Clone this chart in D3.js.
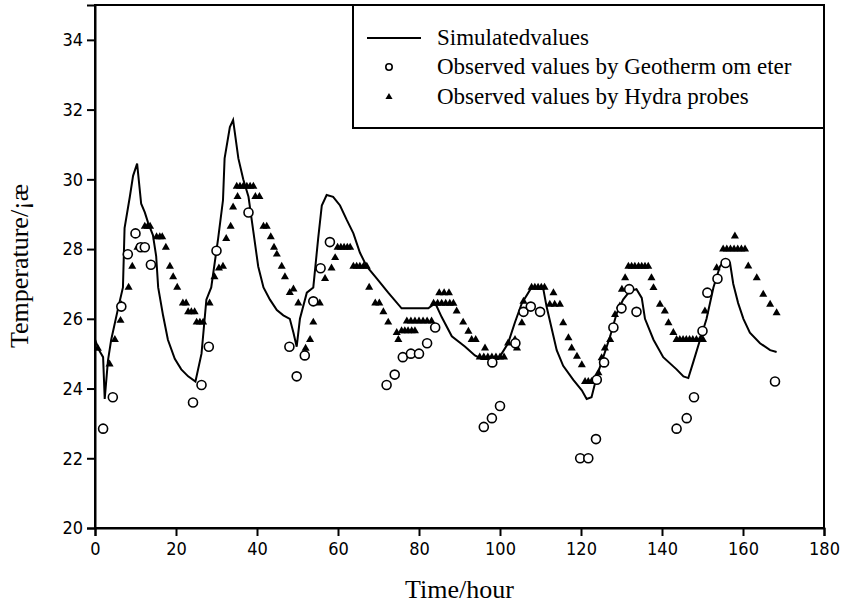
<!DOCTYPE html>
<html>
<head>
<meta charset="utf-8">
<script src="https://cdn.jsdelivr.net/npm/d3@7"></script>
<style>
  body { margin: 0; background: #fff; }
  .tick text { font-family: "Liberation Sans Narrow", "DejaVu Sans Condensed", "Liberation Sans", Arial, sans-serif; font-size: 18px; fill: #000; }
  .title { font-family: "Liberation Serif", "Times New Roman", serif; fill: #000; }
</style>
</head>
<body>
<div id="chart"></div>
<script>
// simulated temperature (line)
var simTime = [0, 1, 2, 2.4, 3.2, 4, 5.7, 6.9, 7.3, 8.6, 9.4, 10.4, 11.4, 12.3, 13.1, 14.3, 15.1, 15.6, 16.8, 18,
  19.7, 21.3, 23, 24.8, 26.3, 27.5, 28.7, 30.4, 31.6, 32, 33.3, 34.1, 35.4, 36.6, 37.9, 39.1, 40.3, 41.6, 43.2, 44.9,
  46.5, 48.1, 49, 49.8, 50.6, 52.3, 53.9, 55.1, 56, 57.2, 58.8, 60.5, 62.1, 63.8, 65.4, 67.1, 69.6, 72.4, 75.7, 82.3,
  84, 85.6, 88.1, 91.4, 93.8, 95.5, 99.6, 102, 103.7, 105.4, 107.8, 110.7, 111.5, 112.8, 114, 115.6, 118.1, 120.2, 121.4, 122.6,
  123.9, 125.5, 127.2, 128.8, 130.4, 132.1, 133.7, 135, 135.8, 137.9, 140.3, 143.6, 145.3, 146.5, 147.7, 149.4, 151, 152.7, 154.3, 155.6,
  156.8, 157.6, 158.8, 160.1, 161.7, 164.2, 166.7, 168.3];
var simTemp = [25.4, 25.1, 24.9, 23.7, 24.8, 25.4, 26.3, 26.9, 28.6, 29.5, 30.1, 30.45, 29.3, 29.05, 28.76, 28.4, 27.8, 26.9, 26.1, 25.4,
  24.85, 24.55, 24.35, 24.2, 25.0, 26.55, 26.9, 28.3, 29.4, 30.6, 31.5, 31.7, 30.6, 30.0, 29.5, 28.5, 27.5, 26.9, 26.55, 26.25,
  26.1, 26.0, 25.6, 25.2, 26.0, 26.75, 26.9, 28.3, 29.25, 29.55, 29.5, 29.25, 28.85, 28.45, 27.9, 27.5, 27.15, 26.75, 26.3, 26.3,
  26.45, 26.05, 25.5, 25.2, 24.95, 24.85, 24.85, 25.3, 25.9, 26.45, 26.9, 26.85, 26.35, 25.7, 25.1, 24.65, 24.25, 23.95, 23.7, 23.75,
  24.35, 24.9, 25.5, 26.15, 26.55, 26.8, 26.85, 26.6, 26.0, 25.4, 24.9, 24.55, 24.35, 24.3, 24.75, 25.4, 26.0, 26.9, 27.5, 27.7,
  27.6, 27.0, 26.45, 26.0, 25.6, 25.3, 25.1, 25.05];

// geothermometer readings (open circles)
var geoTime = [2, 4.4, 6.5, 8.1, 10, 11.3, 12.3, 13.8, 24.2, 26.3, 28.1, 30, 37.9, 48, 49.8, 51.8, 53.9, 55.7, 58,
  72, 74, 76, 78, 80, 82, 84, 96, 98, 100, 98.1, 103.8, 105.8, 107.6, 109.9, 119.8, 121.8, 123.7, 123.9, 125.7, 128, 130, 131.9, 133.7,
  143.6, 146.1, 147.9, 150, 151.2, 153.7, 155.7, 167.9];
var geoTemp = [22.85, 23.75, 26.35, 27.85, 28.45, 28.05, 28.05, 27.55, 23.6, 24.1, 25.2, 27.95, 29.05, 25.2, 24.35, 24.95, 26.5, 27.45, 28.2,
  24.1, 24.4, 24.9, 25.0, 25.0, 25.3, 25.75, 22.9, 23.15, 23.5, 24.75, 25.3, 26.2, 26.35, 26.2, 22.0, 22.0, 22.55, 24.25, 24.75, 25.75, 26.3, 26.85, 26.2,
  22.85, 23.15, 23.75, 25.65, 26.75, 27.15, 27.6, 24.2];

// hydra probe readings (filled triangles)
var hydraTime = [0.7, 3.6, 4.9, 6.3, 6.5, 8.3, 9.2, 10.5, 11.9, 12.3, 13, 13.6, 15.2, 16, 16.6, 17.5, 18.5, 19.3, 20.3, 21.7, 22.5,
  23, 23.8, 24.6, 25.1, 25.9, 26.7, 28.3, 29.5, 30.6, 31.6, 32.4, 33.5, 34.1, 35, 35.8, 36.6, 37.5, 38.3, 39.1, 35.2, 39.6, 40.6,
  41.6, 42.4, 43.4, 44.2, 44.9, 46.1, 46.9, 48.1, 49, 50.2, 52, 53.1, 53.9, 55.5, 56.8, 58.4, 59.3, 59.9, 60.7, 61.5, 62.3, 63,
  63.8, 64.6, 65.4, 66.3, 67.1, 67.7, 69.2, 70.2, 71.2, 72.4, 74.5, 74.9, 75.7, 76.5, 77.3, 78.2, 79, 77, 78, 79, 80, 81, 82, 83.1,
  83.6, 84.6, 85.6, 86.6, 87.6, 88.5, 85, 86.2, 87.4, 89.3, 90.9, 92.2, 93, 94, 96.3, 95, 96, 97, 98, 99, 100, 101,
  102, 103.7, 104.2, 105.4, 105.8, 107.8, 108.6, 109.4, 110.2, 111, 113.2, 112.3, 113.5, 114.8, 115.6, 116.9, 117.7, 119, 120.2,
  121, 121.8, 122.6, 123.5, 124.3, 125.1, 125.9, 127.2, 128.4, 129.6, 130.1, 130.9, 131.7, 132.5, 133.3, 134.2, 135, 135.8, 136.6,
  137.4, 137.9, 139.5, 140.7, 141.6, 142.8, 143.6, 144.4, 145.2, 146, 146.8, 147.6, 148.5, 149.4, 150.1, 149.8, 150.6, 151.4,
  153.5, 155.1, 156, 156.9, 157.8, 158.7, 159.6, 160.5, 158, 161.3, 163.4, 165, 166.7, 168.3];
var hydraTemp = [25.15, 24.7, 25.4, 25.95, 26.4, 26.9, 27.5, 28.05, 28.05, 28.65, 28.65, 28.65, 28.35, 28.35, 28.35, 28.05, 27.5, 27.2, 26.9, 26.45, 26.45,
  26.2, 26.2, 26.2, 25.9, 25.9, 25.9, 26.45, 27.2, 27.45, 27.5, 28.3, 28.65, 29.2, 29.8, 29.8, 29.8, 29.8, 29.8, 29.8, 29.5, 29.5, 29.5,
  28.65, 28.65, 28.35, 28.05, 27.85, 27.5, 27.2, 26.75, 26.85, 26.45, 25.15, 25.4, 25.9, 26.45, 27.15, 27.45, 27.75, 28.05, 28.05, 28.05, 28.05, 28.05,
  27.5, 27.5, 27.5, 27.5, 27.5, 26.9, 26.45, 26.45, 26.2, 25.9, 25.6, 25.4, 25.65, 25.65, 25.65, 25.65, 25.65, 25.93, 25.93, 25.93, 25.93, 25.93, 25.93, 25.93,
  26.44, 26.44, 26.44, 26.44, 26.44, 26.44, 26.74, 26.74, 26.74, 26.22, 25.9, 25.64, 25.4, 25.4, 25.16, 24.9, 24.9, 24.9, 24.9, 24.9, 24.9, 24.9,
  25.3, 25.4, 25.16, 25.88, 26.5, 26.9, 26.9, 26.9, 26.9, 26.9, 26.74, 26.41, 26.41, 26.41, 25.88, 25.45, 25.16, 24.92, 24.68,
  24.2, 24.2, 24.2, 24.2, 24.45, 24.88, 25.16, 25.4, 26.12, 26.36, 26.84, 27.17, 27.5, 27.5, 27.5, 27.5, 27.5, 27.5, 27.5,
  27.17, 26.89, 26.41, 26.22, 25.88, 25.6, 25.4, 25.4, 25.4, 25.4, 25.4, 25.4, 25.4, 25.4, 25.4, 25.65, 26.22, 26.74,
  27.46, 28.0, 28.0, 28.0, 28.0, 28.0, 28.0, 28.0, 28.37, 27.51, 27.17, 26.7, 26.41, 26.17];

var xTicks = [0, 20, 40, 60, 80, 100, 120, 140, 160, 180];
var yTicks = [20, 22, 24, 26, 28, 30, 32, 34];
var legendLabels = ["Simulatedvalues", "Observed values by Geotherm om eter", "Observed values by Hydra probes"];

var width = 846, height = 606;
var margin = { top: 5, right: 22, bottom: 78, left: 95 };

var svg = d3.select("#chart")
  .append("svg")
  .attr("width", width)
  .attr("height", height);

svg.append("rect").attr("width", width).attr("height", height).attr("fill", "#fff");

var xScale = d3.scaleLinear().domain([0, 180]).range([margin.left, width - margin.right]);
var yScale = d3.scaleLinear().domain([20, 35]).range([height - margin.bottom, margin.top]);

// frame (top + right)
svg.append("rect")
  .attr("x", xScale(0))
  .attr("y", yScale(35))
  .attr("width", xScale(180) - xScale(0))
  .attr("height", yScale(20) - yScale(35))
  .attr("fill", "none")
  .attr("stroke", "#000")
  .attr("stroke-width", 2);

var xAxis = svg.append("g")
  .attr("transform", "translate(0," + yScale(20) + ")")
  .call(d3.axisBottom(xScale).tickValues(xTicks).tickSize(8).tickPadding(6));
var yAxis = svg.append("g")
  .attr("transform", "translate(" + xScale(0) + ",0)")
  .call(d3.axisLeft(yScale).tickValues(yTicks).tickSize(8).tickPadding(4));

[xAxis, yAxis].forEach(function(ax) {
  ax.select(".domain").attr("stroke-width", 2);
  ax.selectAll(".tick line").attr("stroke-width", 2);
});

// simulated line
var simData = simTime.map(function(t, i) { return { t: t, v: simTemp[i] }; });
svg.append("path")
  .datum(simData)
  .attr("fill", "none")
  .attr("stroke", "#000")
  .attr("stroke-width", 2)
  .attr("d", d3.line()
    .x(function(d) { return xScale(d.t); })
    .y(function(d) { return yScale(d.v); }));

// hydra probes
var tri = d3.symbol().type(d3.symbolTriangle).size(28);
svg.selectAll("path.hydra")
  .data(hydraTime.map(function(t, i) { return { t: t, v: hydraTemp[i] }; }))
  .enter()
  .append("path")
  .attr("class", "hydra")
  .attr("d", tri)
  .attr("transform", function(d) { return "translate(" + xScale(d.t) + "," + yScale(d.v) + ")"; })
  .attr("fill", "#000");

// geothermometer
svg.selectAll("circle.geo")
  .data(geoTime.map(function(t, i) { return { t: t, v: geoTemp[i] }; }))
  .enter()
  .append("circle")
  .attr("class", "geo")
  .attr("cx", function(d) { return xScale(d.t); })
  .attr("cy", function(d) { return yScale(d.v); })
  .attr("r", 4.5)
  .attr("fill", "#fff")
  .attr("stroke", "#000")
  .attr("stroke-width", 1.6);

// legend
var lg = svg.append("g");
lg.append("rect")
  .attr("x", 353).attr("y", yScale(35))
  .attr("width", xScale(180) - 353).attr("height", 123)
  .attr("fill", "#fff").attr("stroke", "#000").attr("stroke-width", 2);

var rowY = [38, 67, 97];
lg.append("line").attr("x1", 367).attr("x2", 421).attr("y1", rowY[0]).attr("y2", rowY[0])
  .attr("stroke", "#000").attr("stroke-width", 2);
lg.append("circle").attr("cx", 389).attr("cy", rowY[1]).attr("r", 3.2)
  .attr("fill", "#fff").attr("stroke", "#000").attr("stroke-width", 1.6);
lg.append("path").attr("d", d3.symbol().type(d3.symbolTriangle).size(22))
  .attr("transform", "translate(389," + rowY[2] + ")").attr("fill", "#000");

lg.selectAll("text")
  .data(legendLabels)
  .enter()
  .append("text")
  .attr("class", "title")
  .attr("x", 437)
  .attr("y", function(d, i) { return rowY[i] + 7; })
  .attr("font-size", 23)
  .text(function(d) { return d; });

// axis titles
svg.append("text")
  .attr("class", "title")
  .attr("x", (xScale(0) + xScale(180)) / 2)
  .attr("y", 598)
  .attr("text-anchor", "middle")
  .attr("font-size", 26)
  .text("Time/hour");

svg.append("text")
  .attr("class", "title")
  .attr("transform", "translate(28," + 266 + ") rotate(-90)")
  .attr("text-anchor", "middle")
  .attr("font-size", 26)
  .text("Temperature/¡æ");
</script>
</body>
</html>
